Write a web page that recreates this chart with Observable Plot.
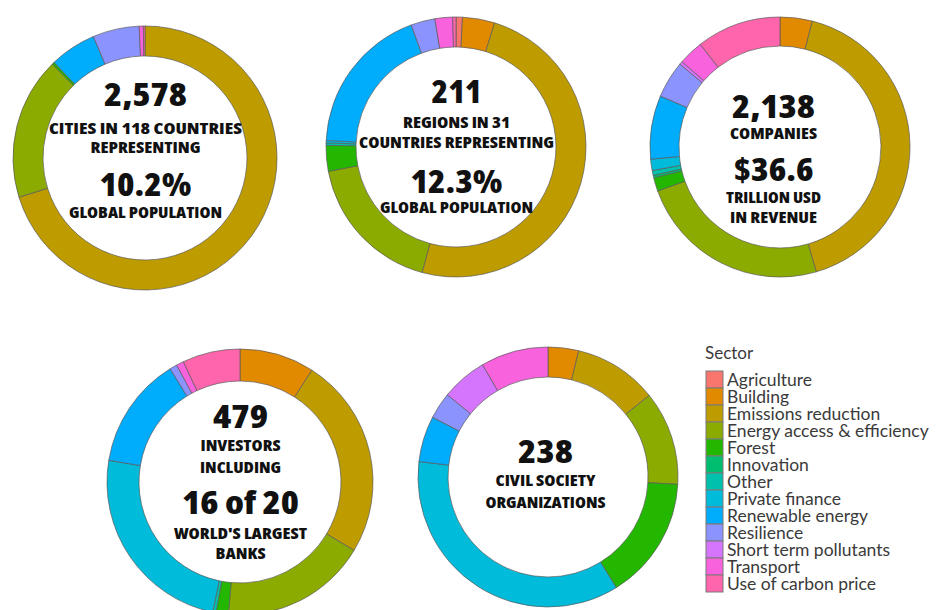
<!DOCTYPE html>
<html><head><meta charset="utf-8">
<script src="https://cdn.jsdelivr.net/npm/d3@7"></script>
<script src="https://cdn.jsdelivr.net/npm/@observablehq/plot@0.6"></script>
<style>
html,body{margin:0;padding:0;background:#fff;}
#root{position:relative;width:937px;height:610px;overflow:hidden;background:#fff;}
.donut{position:absolute;}
.donut svg{overflow:visible;}
#legend{position:absolute;left:705px;top:366px;}
#legendTitle{position:absolute;left:705px;top:342px;font-family:Lato,"Noto Sans",sans-serif;font-size:17px;color:#3a3a3a;}
</style></head><body><div id="root"></div>
<script>
// Sectors and colours (legend order = clockwise order of slices)
const sectors = ["Agriculture","Building","Emissions reduction","Energy access & efficiency","Forest","Innovation","Other","Private finance","Renewable energy","Resilience","Short term pollutants","Transport","Use of carbon price"];
const sectorColors = ["#F8766D","#E18A00","#BE9C00","#8CAB00","#24B700","#00BE70","#00C1AB","#00BBDA","#00ACFC","#8B93FF","#D575FE","#F962DD","#FF65AC"];

// Share of actors per sector (%) for each actor group, in sector order
const citiesValues    = [0, 0, 70.2, 17.4, 0.3, 0, 0, 0, 5.7, 5.7, 0, 0.5, 0.2];
const regionsValues   = [0.8, 4.0, 49.4, 17.8, 3.2, 0, 0.3, 0.3, 18.6, 3.0, 0, 2.2, 0.4];
const companiesValues = [0, 4.0, 41.5, 24.0, 1.7, 0.3, 0.6, 1.4, 7.9, 4.6, 0.4, 3.1, 10.5];
const investorsValues = [0, 9.1, 24.5, 17.8, 1.5, 0, 0.4, 24.3, 13.6, 0.9, 0, 0.9, 7.0];
const civilValues     = [0, 3.8, 10.4, 11.7, 15.3, 0, 0, 35.7, 5.7, 3.3, 5.7, 8.4, 0];

// Centre labels
const citiesLabels    = ["2,578", "CITIES IN 118 COUNTRIES", "REPRESENTING", "10.2%", "GLOBAL POPULATION"];
const regionsLabels   = ["211", "REGIONS IN 31", "COUNTRIES REPRESENTING", "12.3%", "GLOBAL POPULATION"];
const companiesLabels = ["2,138", "COMPANIES", "$36.6", "TRILLION USD", "IN REVENUE"];
const investorsLabels = ["479", "INVESTORS", "INCLUDING", "16 of 20", "WORLD'S LARGEST", "BANKS"];
const civilLabels     = ["238", "CIVIL SOCIETY", "ORGANIZATIONS"];

// Layout (positions / styles only): lines = [dy, fontSize, textLength]
const S = 290;
const layout = [
  {values: citiesValues,    labels: citiesLabels,    cx: 145, cy: 158, R: 132, r: 102, tx: 0,
   lines: [[-53,32,83],[-25,16,193],[-6,16,110],[37,32,92],[59,16,153]]},
  {values: regionsValues,   labels: regionsLabels,   cx: 456, cy: 147, R: 130, r: 100, tx: 0,
   lines: [[-45,32,50],[-20,16,107],[0,16,195],[45,32,92],[65,16,153]]},
  {values: companiesValues, labels: companiesLabels, cx: 780, cy: 147, R: 130, r: 101, tx: -7,
   lines: [[-30,32,83],[-9,16,87],[33,32,80],[55,16,95],[75,16,87]]},
  {values: investorsValues, labels: investorsLabels, cx: 240, cy: 482, R: 133, r: 101, tx: 0,
   lines: [[-55,32,55],[-32,16,80],[-10,16,81],[31,32,117],[56,16,133],[76,16,50]]},
  {values: civilValues,     labels: civilLabels,     cx: 548, cy: 477, R: 130, r: 100, tx: -3,
   lines: [[-15,32,55],[8,16,100],[30,16,120]]}
];
const FONT = '"Open Sans","DejaVu Sans",sans-serif';

const root = document.getElementById("root");

layout.forEach(cfg => {
  const table = sectors.map((s, i) => ({sector: s, value: cfg.values[i]})).filter(d => d.value > 0);
  const total = d3.sum(table, d => d.value);
  const arc = d3.arc().innerRadius(cfg.r).outerRadius(cfg.R);
  const marks = [
    Plot.barX(table, Plot.stackX({
      x: "value", fill: "sector",
      render(index, scales, values, dimensions) {
        const g = d3.create("svg:g")
          .attr("transform", `translate(${dimensions.width / 2},${dimensions.height / 2})`);
        g.selectAll("path").data(index).join("path")
          .attr("d", i => arc({startAngle: values.x1[i], endAngle: values.x2[i]}))
          .attr("fill", i => values.fill[i])
          .attr("stroke", "#5a5a5a")
          .attr("stroke-width", 0.7);
        return g.node();
      }
    }))
  ];
  cfg.labels.forEach((t, k) => {
    const [dy, size] = cfg.lines[k];
    marks.push(Plot.text([t], {
      text: d => d, frameAnchor: "middle", lineAnchor: "bottom", dy, dx: cfg.tx,
      fontSize: size, fontWeight: 800, fontFamily: FONT, fill: "#111"
    }));
  });
  const chart = Plot.plot({
    width: S, height: S, margin: 0,
    x: {domain: [0, total], range: [0, 2 * Math.PI], axis: null},
    color: {domain: sectors, range: sectorColors},
    marks
  });
  chart.querySelectorAll("text").forEach((el, k) => {
    const w = cfg.lines[k][2];
    el.setAttribute("textLength", w);
    el.setAttribute("lengthAdjust", "spacingAndGlyphs");
    el.style.fontStretch = "condensed";
  });
  const wrap = document.createElement("div");
  wrap.className = "donut";
  wrap.style.left = (cfg.cx - S / 2) + "px";
  wrap.style.top = (cfg.cy - S / 2) + "px";
  wrap.appendChild(chart);
  root.appendChild(wrap);
});

// Legend
const title = document.createElement("div");
title.id = "legendTitle";
title.textContent = "Sector";
root.appendChild(title);

const legend = Plot.plot({
  width: 232, height: 231, margin: 0,
  x: {type: "band", domain: ["key"], range: [1, 18], padding: 0, axis: null},
  y: {type: "band", domain: sectors, range: [0, 231], padding: 0, axis: null},
  color: {domain: sectors, range: sectorColors},
  style: {overflow: "visible"},
  marks: [
    Plot.cell(sectors, {x: () => "key", y: d => d, fill: d => d, stroke: "#7a7a7a", strokeWidth: 1, inset: 0}),
    Plot.text(sectors, {x: () => "key", y: d => d, text: d => d, textAnchor: "start", dx: 12,
      fontSize: 17.5, fontFamily: 'Lato,"Noto Sans",sans-serif', fill: "#3a3a3a"})
  ]
});
const lw = document.createElement("div");
lw.id = "legend";
lw.appendChild(legend);
root.appendChild(lw);
</script>
</body></html>
